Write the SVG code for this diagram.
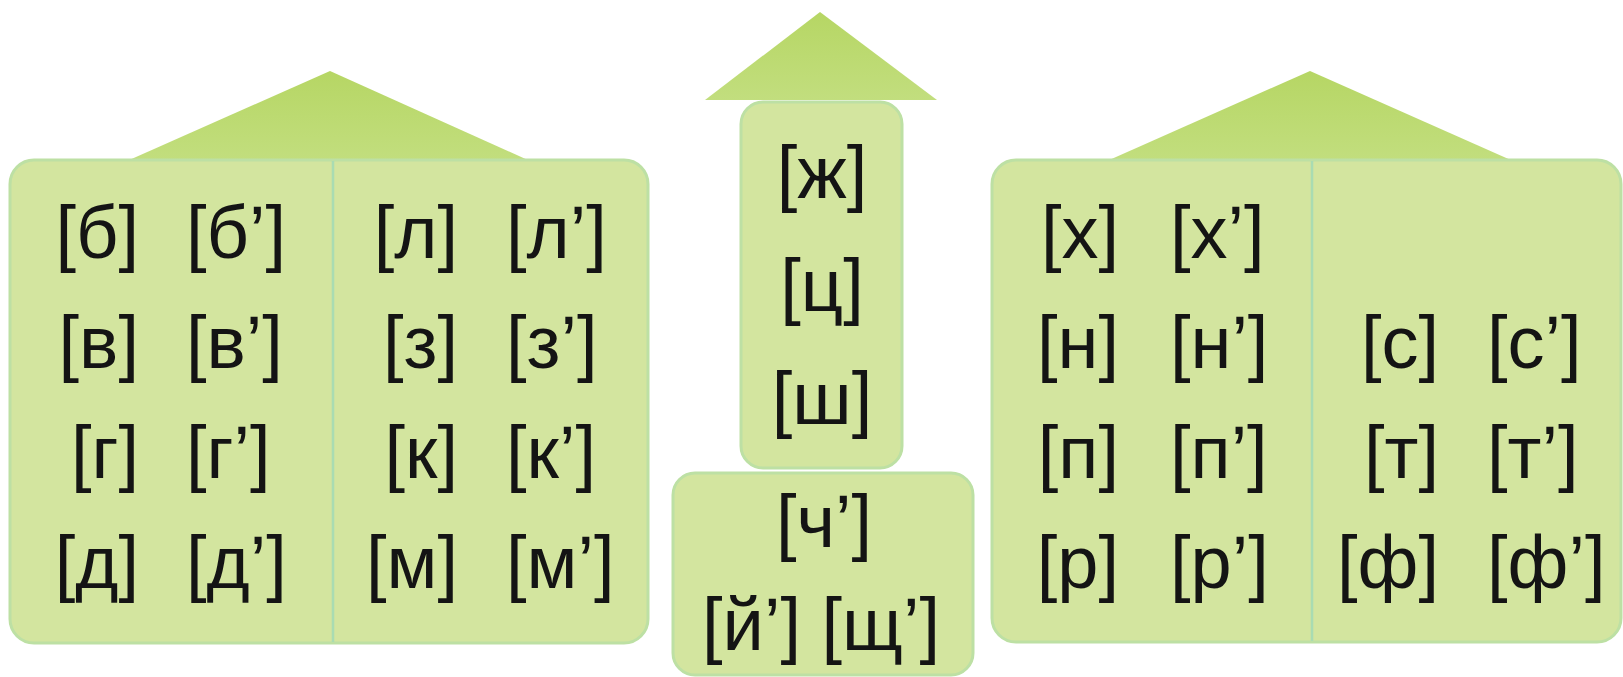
<svg xmlns="http://www.w3.org/2000/svg" width="1623" height="677" viewBox="0 0 1623 677">
<defs>
<linearGradient id="roofG" x1="0" y1="0" x2="0" y2="1">
<stop offset="0" stop-color="#b6d664"/>
<stop offset="1" stop-color="#c2de7e"/>
</linearGradient>
</defs>
<style>
.roof{fill:url(#roofG);}
.box{fill:#d3e59f;stroke:#bde0a4;stroke-width:3;}
.div{stroke:#a9dcb2;stroke-width:2.5;}
text{font-family:"Liberation Sans",Arial,sans-serif;font-size:74px;fill:#141414;}
.e{text-anchor:end;}
.m{text-anchor:middle;}
</style>
<rect width="1623" height="677" fill="#ffffff"/>
<g id="house-left">
<polygon class="roof" points="127,161 330,71 530,161"/>
<rect class="box" x="10" y="160" width="638" height="483" rx="24"/>
<line class="div" x1="333" y1="161" x2="333" y2="642"/>
<text class="e" x="139" y="258">[б]</text>
<text x="186" y="258">[б’]</text>
<text class="e" x="139" y="368">[в]</text>
<text x="186" y="368">[в’]</text>
<text class="e" x="139" y="478">[г]</text>
<text x="186" y="478">[г’]</text>
<text class="e" x="139" y="588">[д]</text>
<text x="186" y="588">[д’]</text>
<text class="e" x="458" y="258">[л]</text>
<text x="506" y="258">[л’]</text>
<text class="e" x="458" y="368">[з]</text>
<text x="506" y="368">[з’]</text>
<text class="e" x="458" y="478">[к]</text>
<text x="506" y="478">[к’]</text>
<text class="e" x="458" y="588">[м]</text>
<text x="506" y="588">[м’]</text>
</g>
<g id="tower">
<polygon class="roof" points="705,100 820,12 937,100"/>
<rect class="box" x="741" y="102" width="161" height="366" rx="22"/>
<text class="m" x="822" y="198">[ж]</text>
<text class="m" x="822" y="311">[ц]</text>
<text class="m" x="822" y="424">[ш]</text>
</g>
<g id="base">
<rect class="box" x="673" y="473" width="300" height="202" rx="22"/>
<text class="m" x="824" y="547">[ч’]</text>
<text class="m" x="821" y="650">[й’] [щ’]</text>
</g>
<g id="house-right">
<polygon class="roof" points="1107,161 1310,71 1513,161"/>
<rect class="box" x="992" y="160" width="629" height="482" rx="24"/>
<line class="div" x1="1312" y1="161" x2="1312" y2="641"/>
<text class="e" x="1119" y="258">[х]</text>
<text x="1170" y="258">[х’]</text>
<text class="e" x="1119" y="368">[н]</text>
<text x="1170" y="368">[н’]</text>
<text class="e" x="1119" y="478">[п]</text>
<text x="1170" y="478">[п’]</text>
<text class="e" x="1119" y="588">[р]</text>
<text x="1170" y="588">[р’]</text>
<text class="e" x="1439" y="368">[с]</text>
<text x="1487" y="368">[с’]</text>
<text class="e" x="1439" y="478">[т]</text>
<text x="1487" y="478">[т’]</text>
<text class="e" x="1439" y="588">[ф]</text>
<text x="1487" y="588">[ф’]</text>
</g>
<g id="connectors"></g>
</svg>
